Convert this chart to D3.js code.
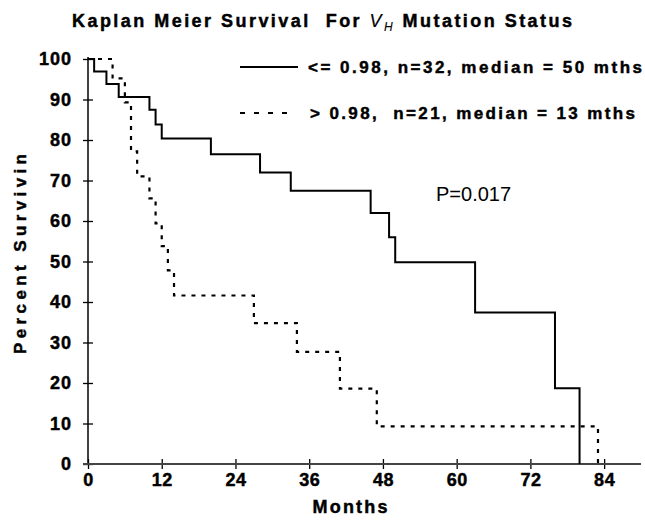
<!DOCTYPE html>
<html>
<head>
<meta charset="utf-8">
<script src="https://cdn.jsdelivr.net/npm/d3@7"></script>
<style>
  html, body { margin: 0; padding: 0; background: #fff; }
  svg { display: block; }
  text { font-family: "Liberation Sans", Arial, sans-serif; fill: #000; white-space: pre; }
  .heavy { font-weight: bold; stroke: #000; stroke-width: 0.45px; }
</style>
</head>
<body>
<svg id="chart" width="645" height="520"></svg>
<script>
// ---- data ----
const lowTimes  = [0, 1, 3, 5, 10, 11, 12, 20, 28, 33, 46, 49, 50, 63, 76, 80];
const lowSurv   = [100, 96.9, 93.8, 90.6, 87.5, 83.8, 80.4, 76.5, 72.0, 67.5, 62.0, 56.0, 49.8, 37.4, 18.7, 0];
const highTimes = [0, 4, 6, 7, 8, 10, 11, 12, 13, 14, 27, 34, 41, 47, 83];
const highSurv  = [100, 95.2, 89.3, 77.2, 71.0, 65.6, 59.4, 53.8, 47.8, 41.6, 34.8, 27.7, 18.6, 9.3, 0];
const xTicks = [0, 12, 24, 36, 48, 60, 72, 84];
const yTicks = [0, 10, 20, 30, 40, 50, 60, 70, 80, 90, 100];
const legendLabels = ["<= 0.98, n=32, median = 50 mths", "> 0.98,  n=21, median = 13 mths"];
const pValueText = "P=0.017";

const svg = d3.select("#chart");
const x = d3.scaleLinear().domain([0, 90]).range([88, 641]);
const y = d3.scaleLinear().domain([0, 100]).range([464, 59]);

// ---- axes ----
const yAxis = svg.append("g").attr("transform", `translate(${x(0)},0)`)
  .call(d3.axisLeft(y).tickValues(yTicks).tickSize(0).tickPadding(16));
yAxis.select(".domain").remove();
yAxis.selectAll(".tick").append("line").attr("x1", -5).attr("x2", 5).attr("stroke", "#000").attr("stroke-width", 1.3);
yAxis.selectAll("text").attr("class", "heavy").style("font-size", "18px").attr("letter-spacing", "1px");

const xAxis = svg.append("g").attr("transform", `translate(0,${y(0)})`)
  .call(d3.axisBottom(x).tickValues(xTicks).tickSize(0).tickPadding(9));
xAxis.select(".domain").remove();
xAxis.selectAll(".tick").append("line").attr("y1", -5).attr("y2", 5).attr("stroke", "#000").attr("stroke-width", 1.3);
xAxis.selectAll("text").attr("class", "heavy").style("font-size", "18px").attr("letter-spacing", "0.5px");

svg.append("line").attr("x1", x(0)).attr("x2", x(0)).attr("y1", y(100) - 2).attr("y2", y(0))
  .attr("stroke", "#000").attr("stroke-width", 1.5);
svg.append("line").attr("x1", x(0) - 5).attr("x2", x(90)).attr("y1", y(0)).attr("y2", y(0))
  .attr("stroke", "#444").attr("stroke-width", 2);

// ---- curves ----
const line = d3.line().x(d => x(d[0])).y(d => y(d[1])).curve(d3.curveStepAfter);
const lowPts = lowTimes.map((t, i) => [t, lowSurv[i]]);
const highPts = highTimes.map((t, i) => [t, highSurv[i]]);

svg.append("path").attr("d", line(highPts)).attr("fill", "none")
  .attr("stroke", "#000").attr("stroke-width", 2.2).attr("stroke-dasharray", "4,6");
svg.append("path").attr("d", line(lowPts)).attr("fill", "none")
  .attr("stroke", "#000").attr("stroke-width", 2);

// ---- title ----
const title = svg.append("text").attr("x", 72).attr("y", 27)
  .attr("textLength", 500).attr("lengthAdjust", "spacing")
  .attr("class", "heavy").style("font-size", "18px");
title.append("tspan").text("Kaplan Meier Survival  For ");
title.append("tspan").text("V").style("font-style", "italic").style("font-weight", "normal").style("stroke-width", "0.2px");
title.append("tspan").text("H").attr("dy", 4).style("font-style", "italic").style("font-weight", "normal").style("stroke-width", "0.1px").style("font-size", "12px");
title.append("tspan").text(" Mutation Status").attr("dy", -4);

// ---- legend ----
svg.append("line").attr("x1", 240).attr("x2", 298).attr("y1", 67).attr("y2", 67)
  .attr("stroke", "#000").attr("stroke-width", 2.2);
svg.append("text").attr("x", 308).attr("y", 73).attr("textLength", 334).attr("lengthAdjust", "spacing")
  .attr("class", "heavy").style("font-size", "17px").text(legendLabels[0]);
svg.append("line").attr("x1", 240).attr("x2", 296).attr("y1", 113).attr("y2", 113)
  .attr("stroke", "#000").attr("stroke-width", 2.2).attr("stroke-dasharray", "5,9");
svg.append("text").attr("x", 310).attr("y", 119).attr("textLength", 325).attr("lengthAdjust", "spacing")
  .attr("class", "heavy").style("font-size", "17px").text(legendLabels[1]);

// ---- p value ----
svg.append("text").attr("x", 436).attr("y", 201).style("font-size", "20px").text(pValueText);

// ---- axis titles ----
svg.append("text").attr("x", 350).attr("y", 513).attr("text-anchor", "middle")
  .attr("textLength", 75).attr("lengthAdjust", "spacing")
  .attr("class", "heavy").style("font-size", "18px").text("Months");
svg.append("text").attr("transform", "translate(26,254) rotate(-90)").attr("text-anchor", "middle")
  .attr("textLength", 200).attr("lengthAdjust", "spacing")
  .attr("class", "heavy").style("font-size", "17px").text("Percent Survivin");
</script>
</body>
</html>
